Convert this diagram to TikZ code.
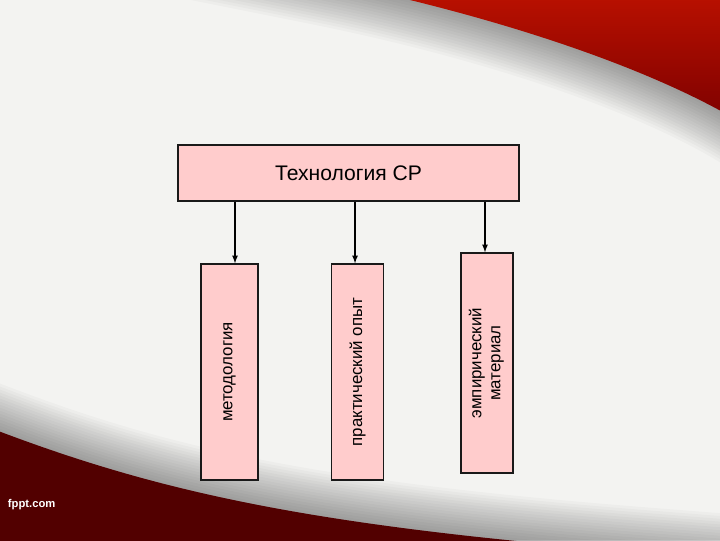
\documentclass[tikz,border=0pt]{standalone}
\usepackage{fontspec}
\setmainfont{Liberation Sans}
\usetikzlibrary{positioning}

\definecolor{slidebg}{HTML}{F3F3F1}
\definecolor{redtop}{HTML}{C01200}
\definecolor{redlow}{HTML}{7A0000}
\definecolor{wine}{HTML}{520000}
\definecolor{boxpink}{HTML}{FFCCCC}

\tikzset{
  headbox/.style={draw=black!90, line width=1pt, fill=boxpink, minimum width=8.525cm,
    minimum height=1.4cm, font=\fontsize{15}{17}\selectfont},
  itembox/.style={draw=black!90, line width=1pt, fill=boxpink, minimum width=1.3cm,
    minimum height=5.4cm, inner sep=0pt, font=\fontsize{12}{13.5}\selectfont},
  shadowline/.style={draw=black, line width=#1, opacity=0.022}
}

\begin{document}
\begin{tikzpicture}[x=0.025cm, y=-0.025cm, ->, >=latex, node distance=3.2cm, on grid]
\useasboundingbox (0,0) rectangle (720,540);
% background of the slide
\fill[slidebg] (0,0) rectangle (720,540);
\foreach \w in {4,8,...,64}
  \draw[-, shadowline=\w pt] (200,-44) -- (320,-20) .. controls (480,12) and (650,65) .. (750,128);
\shade[top color=redtop, bottom color=redlow] (320,-20) .. controls (480,12) and (650,65) .. (750,128) -- (750,-20) -- cycle;
\foreach \w in {4,8,...,64}
  \draw[-, shadowline=\w pt] (-20,424) .. controls (150,490) and (300,525) .. (640,552) -- (780,563);
\fill[wine] (-20,424) .. controls (150,490) and (300,525) .. (640,552) -- (-20,552) -- cycle;
\node[text=white, font=\bfseries\fontsize{8}{9}\selectfont, anchor=west] (brand) at (3,505) {fppt.com};

% diagram
\node [headbox] (tech) at (348.5,173) {Технология СР};
\node [itembox, minimum width=1.425cm] (method) at (229.5,372) {\rotatebox{90}{методология}};
\node [itembox] (practice) [right = of method] {\rotatebox{90}{практический опыт}};
\node [itembox, minimum height=5.5cm] (empir) at (487,363)
  {\rotatebox{90}{\begin{tabular}{@{}c@{}}эмпирический\\материал\end{tabular}}};

\draw [line width=0.9pt] (tech.south -| method.north) ++(5.5,0) coordinate (m0) -- (m0 |- method.north);
\draw [line width=0.9pt] (tech.south -| practice.north) ++(-2.5,0) coordinate (p0) -- (p0 |- practice.north);
\draw [line width=0.9pt] (tech.south -| empir.north) ++(-2,0) coordinate (e0) -- (e0 |- empir.north);
\end{tikzpicture}
\end{document}
